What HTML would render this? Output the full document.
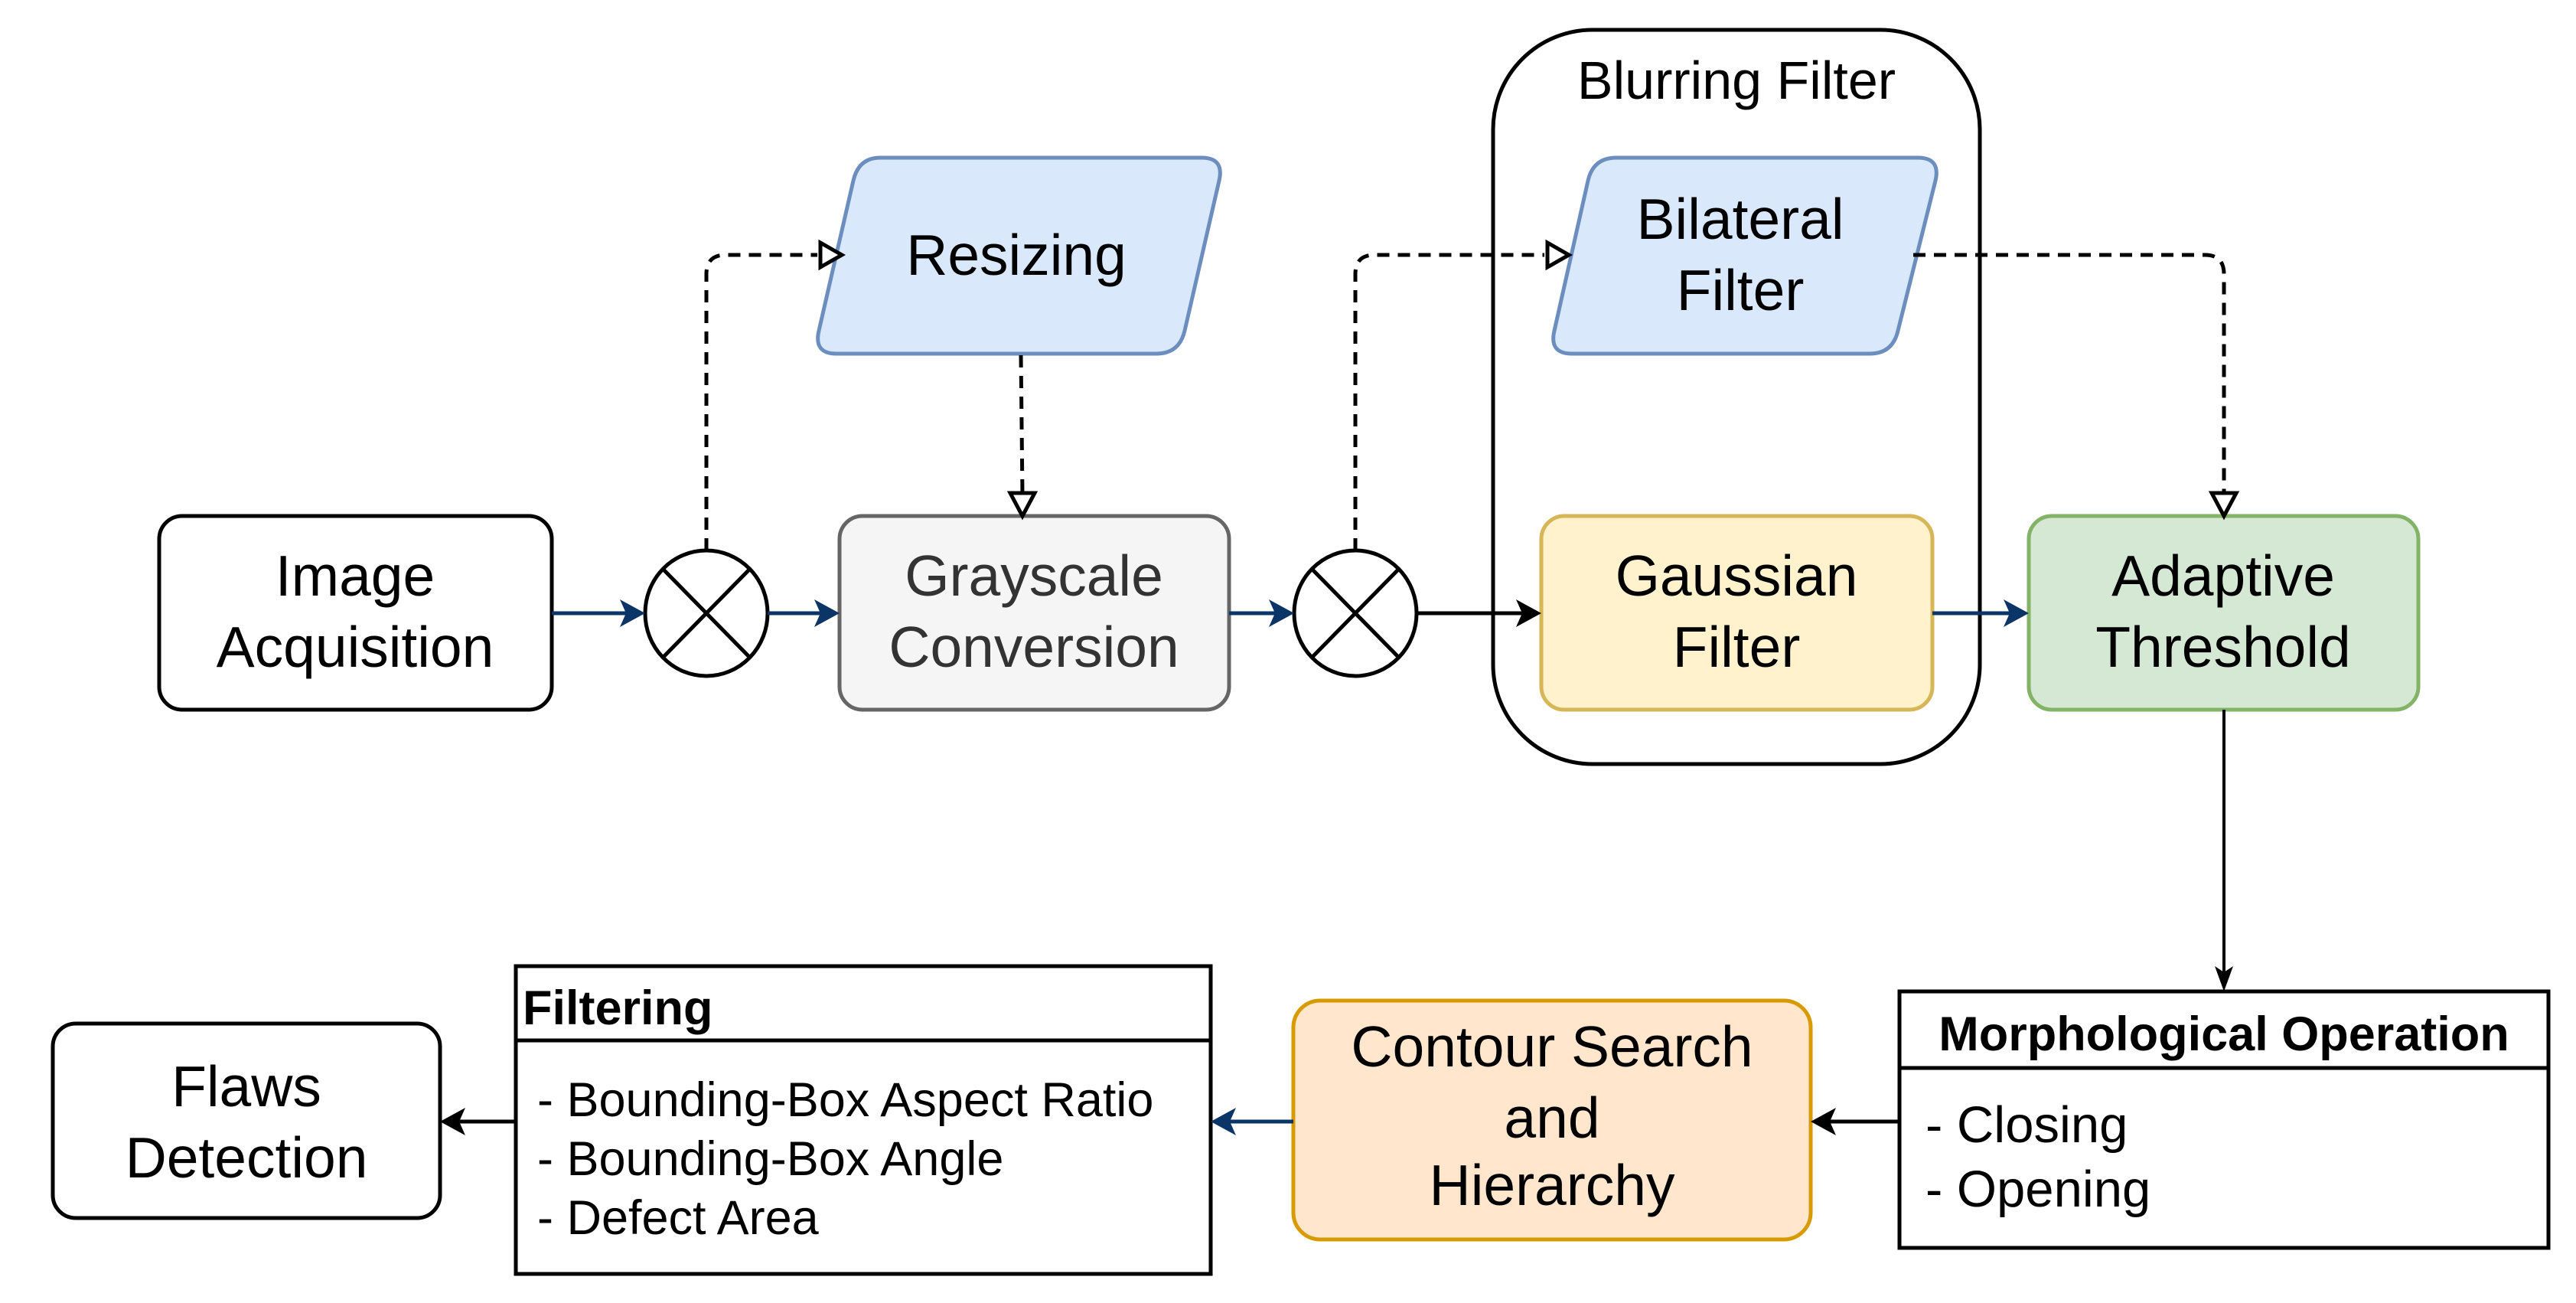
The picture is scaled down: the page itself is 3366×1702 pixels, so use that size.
<!DOCTYPE html>
<html><head><meta charset="utf-8"><style>
html,body{margin:0;padding:0;background:#fff;}
svg{display:block;font-family:"Liberation Sans",Arial,sans-serif;}
</style></head><body>
<svg width="3366" height="1702" viewBox="0 0 3366 1702" xmlns="http://www.w3.org/2000/svg">
<rect width="3366" height="1702" fill="#fff"/>
<g stroke-width="5">
<rect x="1951" y="39" width="636" height="959" rx="130" fill="none" stroke="#000"/>
<rect x="208" y="674" width="513" height="253" rx="30" fill="#fff" stroke="#000"/>
<rect x="1097" y="674" width="509" height="253" rx="30" fill="#f5f5f5" stroke="#666"/>
<rect x="2014" y="674" width="511" height="253" rx="30" fill="#fff2cc" stroke="#d6b656"/>
<rect x="2651" y="674" width="509" height="253" rx="30" fill="#d5e8d4" stroke="#82b366"/>
<path d="M1150,206 L1570,206 Q1600,206 1593,236 L1548,432 Q1541,462 1511,462 L1093,462 Q1063,462 1070,432 L1115,236 Q1122,206 1150,206 Z" fill="#dae8fc" stroke="#6c8ebf"/>
<path d="M2112,206 L2506,206 Q2536,206 2529,236 L2480,432 Q2473,462 2443,462 L2054,462 Q2024,462 2031,432 L2075,236 Q2082,206 2112,206 Z" fill="#dae8fc" stroke="#6c8ebf"/>
<rect x="1690" y="1307" width="676" height="312" rx="35" fill="#ffe6cc" stroke="#d79b00"/>
<rect x="69" y="1337" width="506" height="254" rx="30" fill="#fff" stroke="#000"/>
<rect x="674" y="1262" width="908" height="402" fill="#fff" stroke="#000"/>
<line x1="674" y1="1359" x2="1582" y2="1359" stroke="#000"/>
<rect x="2482" y="1295" width="848" height="335" fill="#fff" stroke="#000"/>
<line x1="2482" y1="1395" x2="3330" y2="1395" stroke="#000"/>
<ellipse cx="923" cy="801" rx="80" ry="82" fill="#fff" stroke="#000"/>
<line x1="866" y1="743" x2="980" y2="859" stroke="#000"/><line x1="980" y1="743" x2="866" y2="859" stroke="#000"/>
<ellipse cx="1771" cy="801" rx="80" ry="82" fill="#fff" stroke="#000"/>
<line x1="1714" y1="743" x2="1828" y2="859" stroke="#000"/><line x1="1828" y1="743" x2="1714" y2="859" stroke="#000"/>
</g>
<g stroke-width="5" fill="none">
<line x1="721" y1="801" x2="835" y2="801" stroke="#0b3566"/><path d="M810,783 L843,801 L810,819 L818,801Z" fill="#0b3566" stroke="none"/>
<line x1="1003" y1="801" x2="1090" y2="801" stroke="#0b3566"/><path d="M1064,783 L1097,801 L1064,819 L1072,801Z" fill="#0b3566" stroke="none"/>
<line x1="1606" y1="801" x2="1683" y2="801" stroke="#0b3566"/><path d="M1658,783 L1691,801 L1658,819 L1666,801Z" fill="#0b3566" stroke="none"/>
<line x1="1851" y1="801" x2="2006" y2="801" stroke="#000"/><path d="M1981,783 L2014,801 L1981,819 L1989,801Z" fill="#000" stroke="none"/>
<line x1="2525" y1="801" x2="2643" y2="801" stroke="#0b3566"/><path d="M2618,783 L2651,801 L2618,819 L2626,801Z" fill="#0b3566" stroke="none"/>
<line x1="2906" y1="927" x2="2906" y2="1288" stroke="#000" stroke-width="4"/><path d="M2894,1262 L2906,1295 L2918,1262 L2906,1270Z" fill="#000" stroke="none"/>
<line x1="2482" y1="1465" x2="2374" y2="1465" stroke="#000"/><path d="M2399,1447 L2366,1465 L2399,1483 L2391,1465Z" fill="#000" stroke="none"/>
<line x1="1690" y1="1465" x2="1590" y2="1465" stroke="#0b3566"/><path d="M1615,1447 L1582,1465 L1615,1483 L1607,1465Z" fill="#0b3566" stroke="none"/>
<line x1="674" y1="1465" x2="583" y2="1465" stroke="#000"/><path d="M608,1447 L575,1465 L608,1483 L600,1465Z" fill="#000" stroke="none"/>
</g>
<g stroke="#000" stroke-width="5" fill="none" stroke-dasharray="16,11">
<path d="M923,719 L923,358 Q923,333 948,333 L1068,333"/>
<path d="M1334,464 L1336,646"/>
<path d="M1771,719 L1771,358 Q1771,333 1796,333 L2018,333"/>
<path d="M2500,333 L2881,333 Q2906,333 2906,358 L2906,646"/>
</g>
<g stroke="#000" stroke-width="5" fill="#fff">
<path d="M1072,317 L1100,333 L1072,349 Z"/>
<path d="M1320,644 L1336,674 L1352,644 Z"/>
<path d="M2022,317 L2050,333 L2022,349 Z"/>
<path d="M2890,644 L2906,674 L2922,644 Z"/>
</g>
<g font-size="75" text-anchor="middle" fill="#000">
<text x="464" y="778">Image</text><text x="464" y="871">Acquisition</text>
<text x="1351" y="778" fill="#333">Grayscale</text><text x="1351" y="871" fill="#333">Conversion</text>
<text x="1328" y="359">Resizing</text>
<text x="2274" y="312">Bilateral</text><text x="2274" y="405">Filter</text>
<text x="2269" y="778">Gaussian</text><text x="2269" y="871">Filter</text>
<text x="2905" y="778">Adaptive</text><text x="2905" y="871">Threshold</text>
<text x="2028" y="1393">Contour Search</text><text x="2028" y="1486">and</text><text x="2028" y="1574">Hierarchy</text>
<text x="322" y="1445">Flaws</text><text x="322" y="1538">Detection</text>
<text x="2269" y="129" font-size="70">Blurring Filter</text>
</g>
<g font-size="63" fill="#000">
<text x="683" y="1338" font-weight="bold">Filtering</text>
<text x="702" y="1458">- Bounding-Box Aspect Ratio</text>
<text x="702" y="1535">- Bounding-Box Angle</text>
<text x="702" y="1612">- Defect Area</text>
<text x="2906" y="1372" font-weight="bold" text-anchor="middle">Morphological Operation</text>
<text x="2516" y="1492" font-size="67">- Closing</text>
<text x="2516" y="1576" font-size="67">- Opening</text>
</g>
</svg>
</body></html>
